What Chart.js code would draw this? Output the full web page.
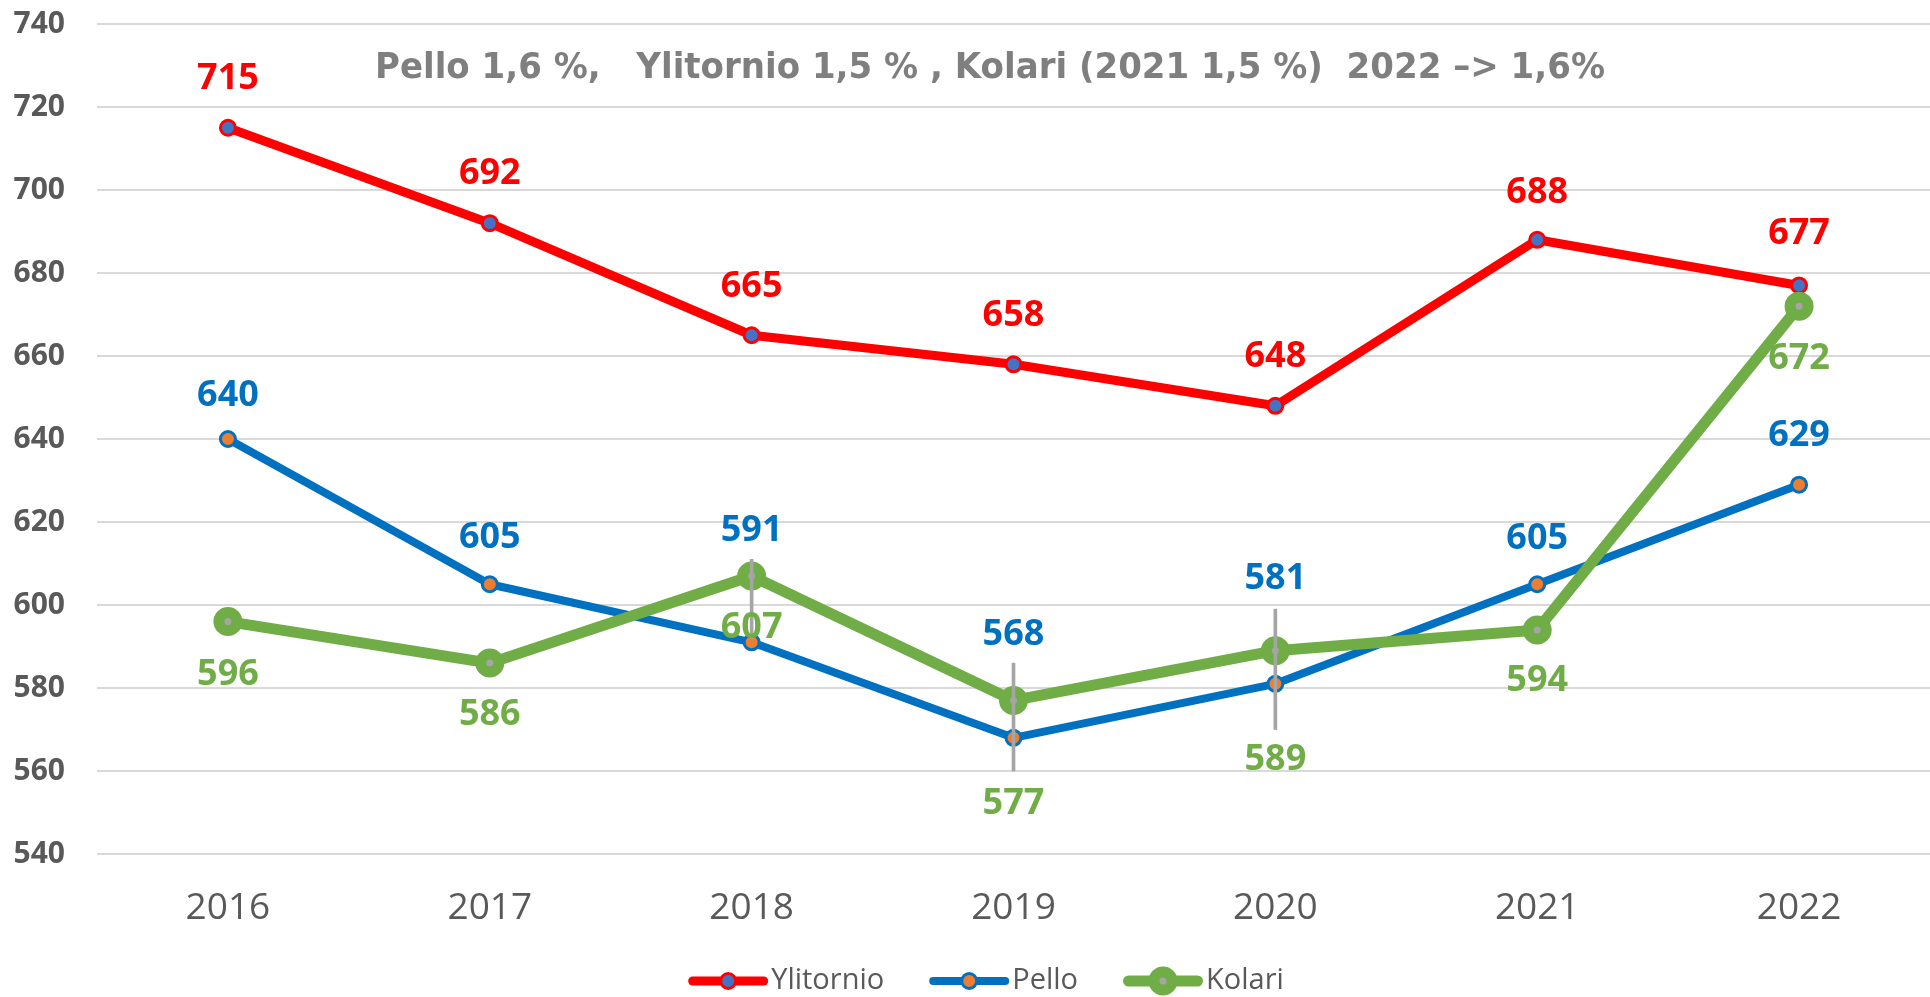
<!DOCTYPE html>
<html>
<head>
<meta charset="utf-8">
<script src="https://cdn.jsdelivr.net/npm/chart.js@4.4.0/dist/chart.umd.min.js"></script>
<style>
html,body{margin:0;padding:0;background:#fff;overflow:hidden;}
#wrap{position:relative;width:1950px;height:997px;}
</style>
</head>
<body>
<div id="wrap"><canvas id="lineChart"></canvas></div>
<script>
var years = ['2016','2017','2018','2019','2020','2021','2022'];
var ylitornio = [715,692,665,658,648,688,677];
var pello = [640,605,591,568,581,605,629];
var kolari = [596,586,607,577,589,594,672];
// harmaat pystyviivat 2018-2020
var rangeLow = [null,null,592,560,570,null,null];
var rangeHigh = [null,null,611,586,599,null,null];
var yMin = 540, yMax = 740, yStep = 20;
var titleText = 'Pello 1,6 %,   Ylitornio 1,5 % , Kolari (2021 1,5 %)  2022 –> 1,6%';

var red = '#FF0000', blue = '#0070C0', green = '#70AD47', gray = '#A5A5A5';

// label offsets (px) relative to the point
var labelOffsets = [
    [-49,-49,-49,-49,-49,-47,-52],
    [-43,-47,-112,-103,-105,-46,-49],
    [53,52,52,103,109,51,53]
];

var titlePlugin = {
    id: 'titleText',
    beforeDatasetsDraw: function(chart){
        var ctx = chart.ctx;
        ctx.save();
        ctx.font = 'bold 35px "DejaVu Sans"';
        ctx.fillStyle = '#7F7F7F';
        ctx.textBaseline = 'alphabetic';
        ctx.textAlign = 'center';
        var w = ctx.measureText(titleText).width;
        var sx = 1230 / w;
        ctx.translate(990, 78);
        ctx.scale(sx, 1);
        ctx.fillText(titleText, 0, 0);
        ctx.restore();
    }
};

var labelPlugin = {
    id: 'valueLabels',
    afterDatasetsDraw: function(chart){
        var ctx = chart.ctx;
        ctx.save();
        ctx.font = 'bold 36px "Open Sans"';
        ctx.textAlign = 'center';
        ctx.textBaseline = 'middle';
        for (var d = 0; d < 3; d++) {
            var ds = chart.data.datasets[d];
            var meta = chart.getDatasetMeta(d);
            ctx.fillStyle = ds.borderColor;
            meta.data.forEach(function(pt, i){
                ctx.fillText(String(ds.data[i]), pt.x, pt.y + labelOffsets[d][i]);
            });
        }
        ctx.restore();
    }
};

var legendPlugin = {
    id: 'lineLegend',
    afterDraw: function(chart){
        var ctx = chart.ctx;
        ctx.save();
        ctx.font = '29px "Open Sans"';
        ctx.textBaseline = 'middle';
        var items = [0,1,2].map(function(d){
            var ds = chart.data.datasets[d];
            return {ds: ds, tw: ctx.measureText(ds.label).width};
        });
        var sym = 80, gap = 45, tgap = 3;
        var total = 0;
        items.forEach(function(it){ total += sym + tgap + it.tw; });
        total += gap * (items.length - 1);
        var x = 986 - total / 2, y = 981;
        items.forEach(function(it){
            var ds = it.ds;
            ctx.strokeStyle = ds.borderColor;
            ctx.lineWidth = ds.borderWidth;
            ctx.lineCap = 'round';
            ctx.beginPath();
            ctx.moveTo(x + ds.borderWidth / 2, y);
            ctx.lineTo(x + sym - ds.borderWidth / 2, y);
            ctx.stroke();
            ctx.beginPath();
            ctx.arc(x + sym / 2, y, ds.pointRadius, 0, Math.PI * 2);
            ctx.fillStyle = ds.pointBackgroundColor;
            ctx.fill();
            ctx.lineWidth = ds.pointBorderWidth;
            ctx.strokeStyle = ds.pointBorderColor;
            ctx.stroke();
            ctx.fillStyle = '#595959';
            ctx.fillText(ds.label, x + sym + tgap, y);
            x += sym + tgap + it.tw + gap;
        });
        ctx.restore();
    }
};

var ctx = document.getElementById('lineChart').getContext('2d');
var myChart = new Chart(ctx, {
    type: 'line',
    data: {
        labels: years,
        datasets: [{
            label: 'Ylitornio',
            data: ylitornio,
            borderColor: red,
            borderWidth: 9,
            pointRadius: 7.5,
            pointBorderWidth: 3,
            pointBackgroundColor: '#4472C4',
            pointBorderColor: red,
            borderJoinStyle: 'round',
            borderCapStyle: 'round',
            order: 3
        }, {
            label: 'Pello',
            data: pello,
            borderColor: blue,
            borderWidth: 8,
            pointRadius: 7.5,
            pointBorderWidth: 3,
            pointBackgroundColor: '#ED7D31',
            pointBorderColor: blue,
            borderJoinStyle: 'round',
            borderCapStyle: 'round',
            order: 2
        }, {
            label: 'Kolari',
            data: kolari,
            borderColor: green,
            borderWidth: 11,
            pointRadius: 9,
            pointBorderWidth: 11,
            pointBackgroundColor: gray,
            pointBorderColor: green,
            borderJoinStyle: 'round',
            borderCapStyle: 'round',
            order: 1
        }, {
            type: 'bar',
            label: 'range',
            data: rangeLow.map(function(v, i){ return v == null ? null : [v, rangeHigh[i]]; }),
            backgroundColor: gray,
            barThickness: 3,
            order: 0
        }]
    },
    options: {
        responsive: true,
        maintainAspectRatio: false,
        animation: false,
        events: [],
        layout: { padding: { top: 24, right: 9, left: 0, bottom: 0 } },
        plugins: {
            legend: { display: false },
            tooltip: { enabled: false }
        },
        scales: {
            x: {
                offset: true,
                grid: { display: false },
                border: { display: false },
                ticks: {
                    color: '#595959',
                    font: { family: 'Open Sans', size: 37 },
                    padding: 24
                },
                afterFit: function(scale){ scale.height = 143; }
            },
            y: {
                min: yMin,
                max: yMax,
                grid: { color: '#D9D9D9', lineWidth: 2, drawTicks: false },
                border: { display: false },
                ticks: {
                    stepSize: yStep,
                    color: '#595959',
                    font: { family: 'Open Sans', size: 30, weight: 'bold' },
                    padding: 32
                },
                afterFit: function(scale){
                    scale.width = 97;
                    scale.paddingTop = 0;
                    scale.paddingBottom = 0;
                }
            }
        }
    },
    plugins: [titlePlugin, labelPlugin, legendPlugin]
});
</script>
</body>
</html>
